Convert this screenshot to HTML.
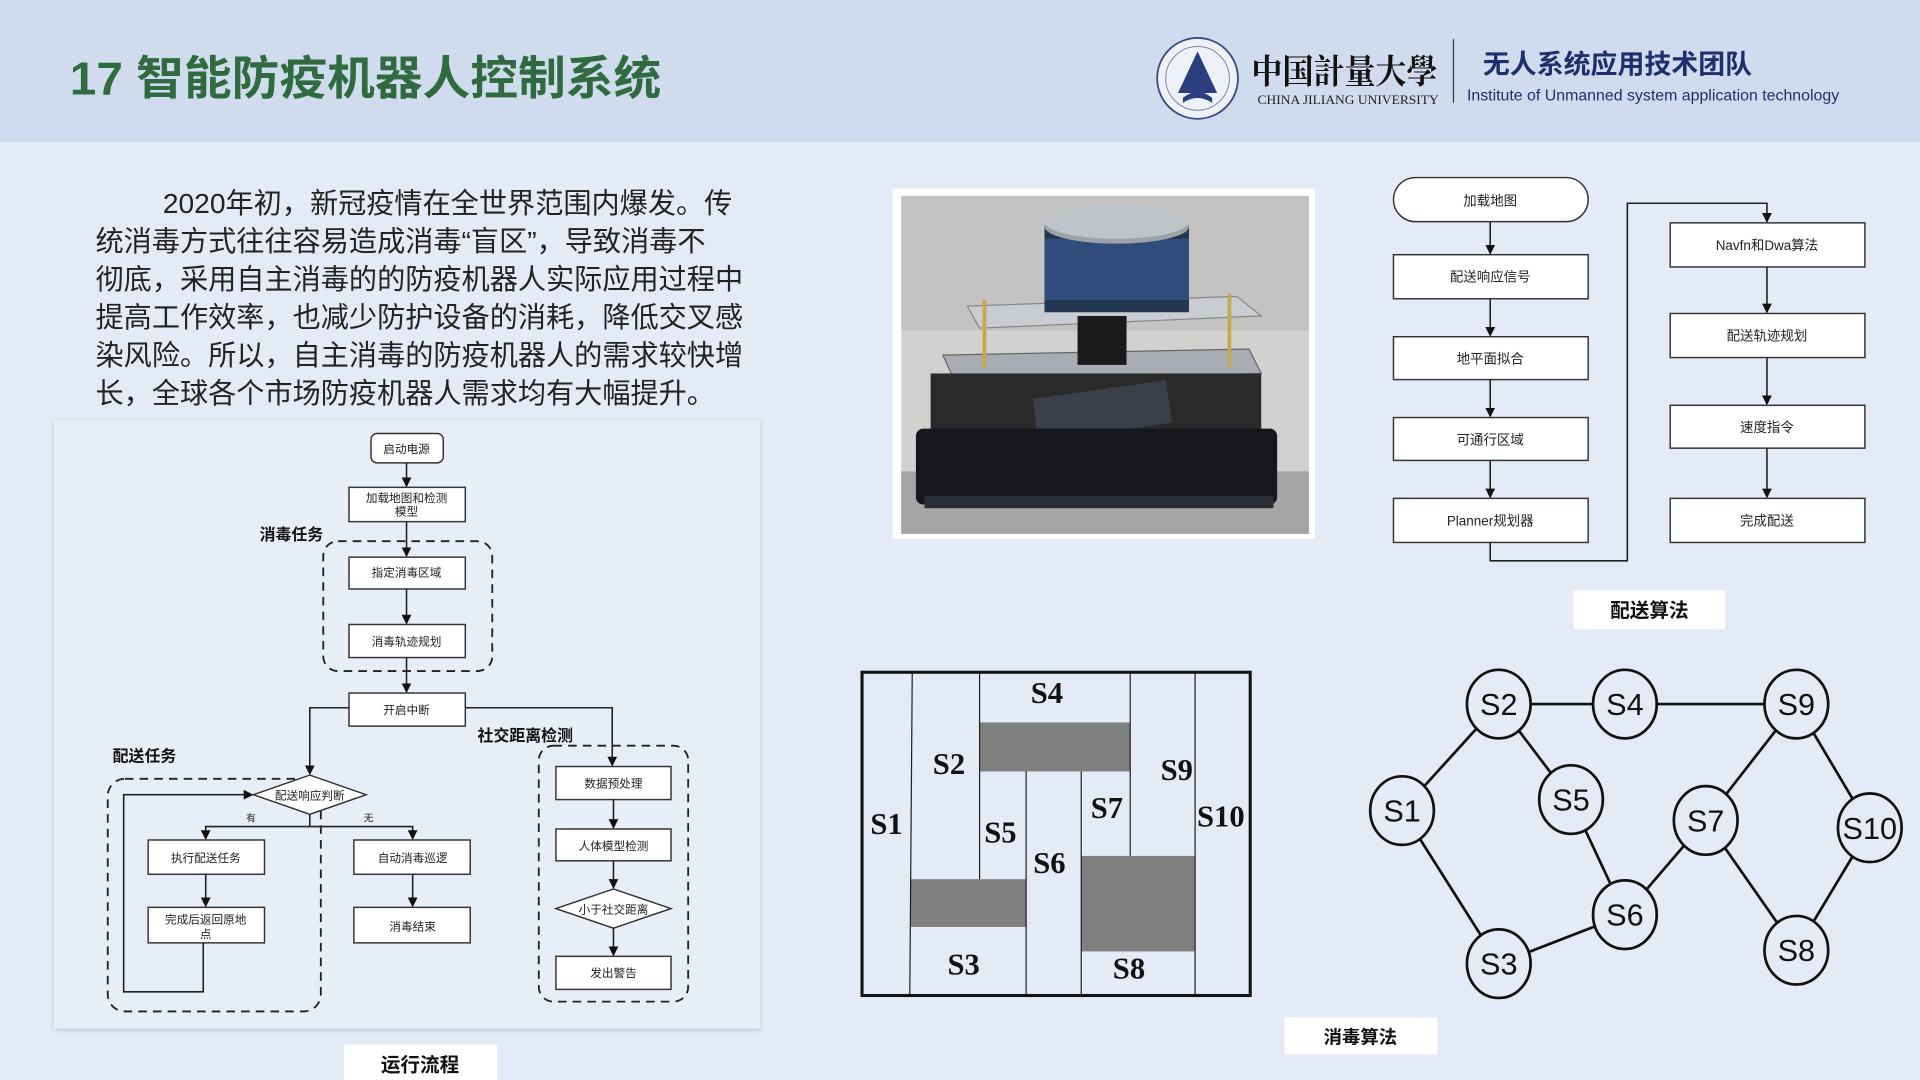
<!DOCTYPE html>
<html><head><meta charset="utf-8"><style>
html,body{margin:0;padding:0;background:#e4ebf6;}
svg{display:block;}
text{font-family:"Liberation Sans","Noto Sans CJK SC",sans-serif;}
.bx{fill:#fff;stroke:#333;stroke-width:1.2;}
.ln{stroke:#222;stroke-width:1.3;fill:none;}
.ds{stroke:#222;stroke-width:1.5;fill:none;stroke-dasharray:7,5;}
.sm{font-size:9.5px;fill:#222;text-anchor:middle;}
.md{font-size:11px;fill:#222;text-anchor:middle;}
.sv{font-family:"Liberation Serif","DejaVu Serif",serif;font-weight:bold;font-size:25px;fill:#111;text-anchor:middle;}
.gn{font-family:"Liberation Sans Narrow","Liberation Sans",sans-serif;font-size:25px;fill:#111;text-anchor:middle;}
</style></head><body>
<svg width="1920" height="1080" viewBox="0 0 1568 882" preserveAspectRatio="none" xmlns="http://www.w3.org/2000/svg">
<defs>
<marker id="a" markerWidth="8" markerHeight="8" refX="7" refY="4" orient="auto" markerUnits="userSpaceOnUse"><path d="M0,0 L8,4 L0,8 z" fill="#111"/></marker>
<filter id="sh" x="-5%" y="-5%" width="110%" height="110%"><feDropShadow dx="0" dy="1" stdDeviation="2" flood-color="#000" flood-opacity="0.2"/></filter>
</defs>
<rect width="1568" height="882" fill="#e4ebf6"/>
<rect width="1568" height="116" fill="#d0dcee"/>
<text x="57" y="77" font-size="38" font-weight="bold" fill="#2f6b3f" textLength="483" lengthAdjust="spacingAndGlyphs">17 智能防疫机器人控制系统</text>
<!-- logo -->
<circle cx="978" cy="64" r="33" fill="#eef2f8" stroke="#3b4d86" stroke-width="1.5"/>
<circle cx="978" cy="64" r="26" fill="none" stroke="#7a86aa" stroke-width="0.8"/>
<path d="M978,42 L962,76 L994,76 z" fill="#2b3e82"/>
<path d="M966,80 Q978,70 990,80 L990,84 Q978,76 966,84 z" fill="#2b3e82"/>
<text x="1022" y="68" font-size="28" font-weight="bold" fill="#111" style="font-family:'Noto Serif CJK SC',serif" textLength="152" lengthAdjust="spacingAndGlyphs">中国計量大學</text>
<text x="1027" y="85" font-size="10.5" fill="#222" style="font-family:'Liberation Serif',serif" textLength="148" lengthAdjust="spacingAndGlyphs">CHINA JILIANG UNIVERSITY</text>
<line x1="1187" y1="32" x2="1187" y2="84" stroke="#333" stroke-width="1"/>
<text x="1211" y="60" font-size="22" font-weight="bold" fill="#1f2f6e">无人系统应用技术团队</text>
<text x="1198" y="82" font-size="13" fill="#1f2f6e">Institute of Unmanned system application technology</text>
<!-- paragraph -->
<g font-size="23" fill="#222">
<text x="133" y="174">2020年初，新冠疫情在全世界范围内爆发。传</text>
<text x="78" y="205">统消毒方式往往容易造成消毒“盲区”，导致消毒不</text>
<text x="78" y="236">彻底，采用自主消毒的的防疫机器人实际应用过程中</text>
<text x="78" y="267">提高工作效率，也减少防护设备的消耗，降低交叉感</text>
<text x="78" y="298">染风险。所以，自主消毒的防疫机器人的需求较快增</text>
<text x="78" y="329">长，全球各个市场防疫机器人需求均有大幅提升。</text>
</g>
<!-- left flowchart panel -->
<rect x="44" y="343" width="577" height="497" fill="#e8eef8" filter="url(#sh)"/>
<rect x="303" y="354" width="59" height="24" rx="5" class="bx"/><text x="332" y="370" class="sm">启动电源</text>
<line x1="332" y1="378" x2="332" y2="397" class="ln" marker-end="url(#a)"/>
<rect x="285" y="398" width="95" height="28" class="bx"/><text x="332" y="410" class="sm">加载地图和检测</text><text x="332" y="421" class="sm">模型</text>
<line x1="332" y1="426" x2="332" y2="454" class="ln" marker-end="url(#a)"/>
<rect x="264" y="442" width="138" height="106" rx="12" class="ds"/>
<text x="212" y="441" font-size="13" font-weight="bold" fill="#111">消毒任务</text>
<rect x="285" y="455" width="95" height="26" class="bx"/><text x="332" y="471" class="sm">指定消毒区域</text>
<line x1="332" y1="481" x2="332" y2="509" class="ln" marker-end="url(#a)"/>
<rect x="285" y="510" width="95" height="27" class="bx"/><text x="332" y="527" class="sm">消毒轨迹规划</text>
<line x1="332" y1="537" x2="332" y2="565" class="ln" marker-end="url(#a)"/>
<rect x="285" y="566" width="95" height="27" class="bx"/><text x="332" y="583" class="sm">开启中断</text>
<polyline points="285,578 253,578 253,632" class="ln" marker-end="url(#a)"/>
<polyline points="380,578 500,578 500,625" class="ln" marker-end="url(#a)"/>
<text x="390" y="605" font-size="13" font-weight="bold" fill="#111">社交距离检测</text>
<text x="92" y="622" font-size="13" font-weight="bold" fill="#111">配送任务</text>
<rect x="88" y="636" width="174" height="190" rx="14" class="ds"/>
<rect x="440" y="609" width="122" height="209" rx="12" class="ds"/>
<path d="M207,649 L253,633 L299,649 L253,665 z" class="bx"/><text x="253" y="653" class="sm">配送响应判断</text>
<polyline points="253,665 253,675 168,675 168,685" class="ln" marker-end="url(#a)"/>
<polyline points="253,675 337,675 337,685" class="ln" marker-end="url(#a)"/>
<text x="205" y="671" font-size="8" fill="#222" text-anchor="middle">有</text>
<text x="301" y="671" font-size="8" fill="#222" text-anchor="middle">无</text>
<rect x="121" y="686" width="95" height="28" class="bx"/><text x="168" y="704" class="sm">执行配送任务</text>
<line x1="168" y1="714" x2="168" y2="740" class="ln" marker-end="url(#a)"/>
<rect x="121" y="741" width="95" height="29" class="bx"/><text x="168" y="754" class="sm">完成后返回原地</text><text x="168" y="766" class="sm">点</text>
<polyline points="166,770 166,810 101,810 101,649 206,649" class="ln" marker-end="url(#a)"/>
<rect x="289" y="686" width="95" height="28" class="bx"/><text x="337" y="704" class="sm">自动消毒巡逻</text>
<line x1="337" y1="714" x2="337" y2="740" class="ln" marker-end="url(#a)"/>
<rect x="289" y="741" width="95" height="29" class="bx"/><text x="337" y="760" class="sm">消毒结束</text>
<rect x="454" y="626" width="94" height="27" class="bx"/><text x="501" y="643" class="sm">数据预处理</text>
<line x1="501" y1="653" x2="501" y2="676" class="ln" marker-end="url(#a)"/>
<rect x="454" y="677" width="94" height="26" class="bx"/><text x="501" y="694" class="sm">人体模型检测</text>
<line x1="501" y1="703" x2="501" y2="725" class="ln" marker-end="url(#a)"/>
<path d="M454,742 L501,726 L548,742 L501,758 z" class="bx"/><text x="501" y="746" class="sm">小于社交距离</text>
<line x1="501" y1="758" x2="501" y2="780" class="ln" marker-end="url(#a)"/>
<rect x="454" y="781" width="94" height="27" class="bx"/><text x="501" y="798" class="sm">发出警告</text>
<rect x="281" y="853" width="125" height="29" fill="#fff"/><text x="343" y="875" font-size="16" font-weight="bold" fill="#111" text-anchor="middle">运行流程</text>
<!-- photo -->
<rect x="729" y="154" width="345" height="286" fill="#fff"/>
<rect x="736" y="160" width="333" height="276" fill="#d2d1d0"/>
<rect x="736" y="160" width="333" height="110" fill="#c4c3c2"/>
<rect x="736" y="385" width="333" height="51" fill="#a5a5a5"/>
<path d="M790,250 L1010,242 L1030,258 L800,268 z" fill="#c9ccd0" stroke="#888"/>
<path d="M770,290 L1020,285 L1030,305 L780,312 z" fill="#a9adb3" stroke="#666"/>
<rect x="760" y="305" width="270" height="50" fill="#2a2a2a"/>
<rect x="845" y="318" width="110" height="35" fill="#3c3f48" transform="rotate(-8 900 335)"/>
<rect x="748" y="350" width="295" height="62" rx="6" fill="#15171c"/>
<rect x="755" y="405" width="285" height="10" fill="#2a2d33"/>
<rect x="880" y="258" width="40" height="40" fill="#1a1a1a"/>
<rect x="853" y="185" width="118" height="70" fill="#233750"/>
<rect x="853" y="195" width="118" height="50" fill="#2f4c7a"/>
<ellipse cx="912" cy="185" rx="59" ry="14" fill="#9da2a8"/>
<ellipse cx="912" cy="181" rx="59" ry="14" fill="#c0c4c8"/>
<line x1="804" y1="245" x2="804" y2="300" stroke="#c8a84a" stroke-width="3"/>
<line x1="1004" y1="240" x2="1004" y2="300" stroke="#c8a84a" stroke-width="3"/>
<!-- right flowchart -->
<rect x="1138" y="145" width="159" height="36" rx="18" class="bx"/><text x="1217" y="168" class="md">加载地图</text>
<line x1="1217" y1="181" x2="1217" y2="207" class="ln" marker-end="url(#a)"/>
<rect x="1138" y="208" width="159" height="36" class="bx"/><text x="1217" y="230" class="md">配送响应信号</text>
<line x1="1217" y1="244" x2="1217" y2="274" class="ln" marker-end="url(#a)"/>
<rect x="1138" y="275" width="159" height="35" class="bx"/><text x="1217" y="297" class="md">地平面拟合</text>
<line x1="1217" y1="310" x2="1217" y2="340" class="ln" marker-end="url(#a)"/>
<rect x="1138" y="341" width="159" height="35" class="bx"/><text x="1217" y="363" class="md">可通行区域</text>
<line x1="1217" y1="376" x2="1217" y2="406" class="ln" marker-end="url(#a)"/>
<rect x="1138" y="407" width="159" height="36" class="bx"/><text x="1217" y="429" class="md">Planner规划器</text>
<polyline points="1217,443 1217,458 1329,458 1329,166 1443,166 1443,181" class="ln" marker-end="url(#a)"/>
<rect x="1364" y="182" width="159" height="36" class="bx"/><text x="1443" y="204" class="md">Navfn和Dwa算法</text>
<line x1="1443" y1="218" x2="1443" y2="255" class="ln" marker-end="url(#a)"/>
<rect x="1364" y="256" width="159" height="36" class="bx"/><text x="1443" y="278" class="md">配送轨迹规划</text>
<line x1="1443" y1="292" x2="1443" y2="330" class="ln" marker-end="url(#a)"/>
<rect x="1364" y="331" width="159" height="35" class="bx"/><text x="1443" y="353" class="md">速度指令</text>
<line x1="1443" y1="366" x2="1443" y2="406" class="ln" marker-end="url(#a)"/>
<rect x="1364" y="407" width="159" height="36" class="bx"/><text x="1443" y="429" class="md">完成配送</text>
<rect x="1285" y="482" width="124" height="32" fill="#fff"/><text x="1347" y="504" font-size="16" font-weight="bold" fill="#111" text-anchor="middle">配送算法</text>
<!-- map -->
<rect x="800" y="590" width="123" height="40" fill="#7f7f7f"/>
<rect x="744" y="718" width="94" height="39" fill="#7f7f7f"/>
<rect x="883" y="699" width="93" height="78" fill="#7f7f7f"/>
<g stroke="#222" stroke-width="1">
<line x1="745" y1="549" x2="743" y2="813"/>
<line x1="800" y1="549" x2="800" y2="718"/>
<line x1="838" y1="630" x2="838" y2="813"/>
<line x1="883" y1="630" x2="883" y2="813"/>
<line x1="923" y1="549" x2="923" y2="699"/>
<line x1="976" y1="549" x2="976" y2="813"/>
</g>
<rect x="704" y="549" width="317" height="264" fill="none" stroke="#111" stroke-width="2.5"/>
<text x="855" y="574" class="sv">S4</text>
<text x="775" y="632" class="sv">S2</text>
<text x="961" y="637" class="sv">S9</text>
<text x="724" y="681" class="sv">S1</text>
<text x="817" y="688" class="sv">S5</text>
<text x="904" y="668" class="sv">S7</text>
<text x="997" y="675" class="sv">S10</text>
<text x="857" y="713" class="sv">S6</text>
<text x="787" y="796" class="sv">S3</text>
<text x="922" y="799" class="sv">S8</text>
<!-- graph -->
<g stroke="#111" stroke-width="2.2">
<line x1="1224" y1="575" x2="1467" y2="575"/>
<line x1="1224" y1="575" x2="1145" y2="662"/>
<line x1="1224" y1="575" x2="1283" y2="653"/>
<line x1="1145" y1="662" x2="1224" y2="787"/>
<line x1="1283" y1="653" x2="1327" y2="747"/>
<line x1="1224" y1="787" x2="1327" y2="747"/>
<line x1="1327" y1="747" x2="1393" y2="670"/>
<line x1="1393" y1="670" x2="1467" y2="575"/>
<line x1="1393" y1="670" x2="1467" y2="776"/>
<line x1="1467" y1="575" x2="1527" y2="676"/>
<line x1="1527" y1="676" x2="1467" y2="776"/>
</g>
<g fill="#e4ebf6" stroke="#111" stroke-width="2.2">
<ellipse cx="1224" cy="575" rx="26" ry="28"/>
<ellipse cx="1327" cy="575" rx="26" ry="28"/>
<ellipse cx="1467" cy="575" rx="26" ry="28"/>
<ellipse cx="1145" cy="662" rx="26" ry="28"/>
<ellipse cx="1283" cy="653" rx="26" ry="28"/>
<ellipse cx="1393" cy="670" rx="26" ry="28"/>
<ellipse cx="1527" cy="676" rx="26" ry="28"/>
<ellipse cx="1327" cy="747" rx="26" ry="28"/>
<ellipse cx="1224" cy="787" rx="26" ry="28"/>
<ellipse cx="1467" cy="776" rx="26" ry="28"/>
</g>
<text x="1224" y="584" class="gn">S2</text>
<text x="1327" y="584" class="gn">S4</text>
<text x="1467" y="584" class="gn">S9</text>
<text x="1145" y="671" class="gn">S1</text>
<text x="1283" y="662" class="gn">S5</text>
<text x="1393" y="679" class="gn">S7</text>
<text x="1527" y="685" class="gn">S10</text>
<text x="1327" y="756" class="gn">S6</text>
<text x="1224" y="796" class="gn">S3</text>
<text x="1467" y="785" class="gn">S8</text>
<rect x="1049" y="831" width="125" height="30" fill="#fff"/><text x="1111" y="852" font-size="15" font-weight="bold" fill="#111" text-anchor="middle">消毒算法</text>
</svg>
</body></html>
